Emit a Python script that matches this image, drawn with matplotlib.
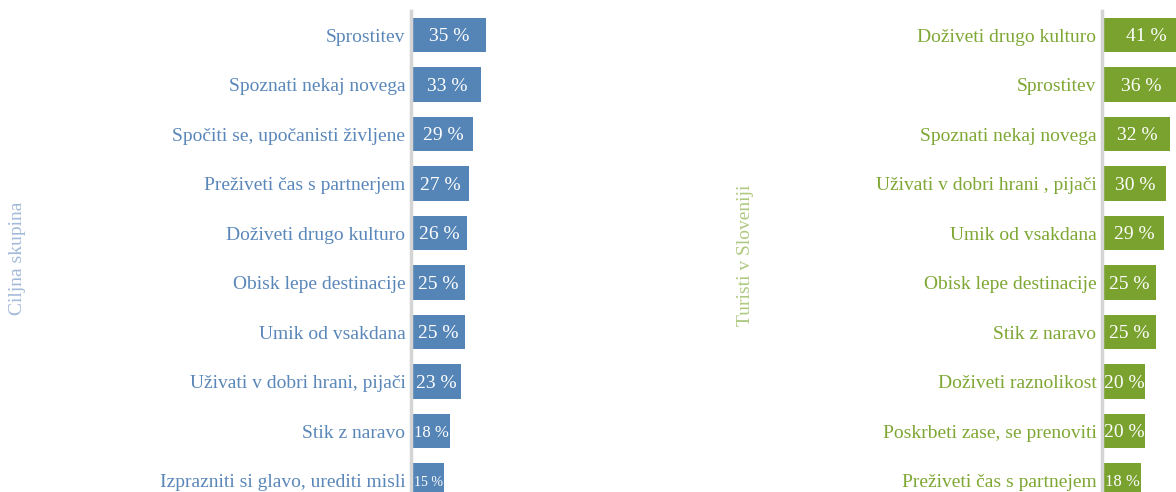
import matplotlib.pyplot as plt

# Ciljna skupina (levo)
cilj_labels = ['Sprostitev', 'Spoznati nekaj novega', 'Spočiti se, upočanisti življene',
               'Preživeti čas s partnerjem', 'Doživeti drugo kulturo', 'Obisk lepe destinacije',
               'Umik od vsakdana', 'Uživati v dobri hrani, pijači', 'Stik z naravo',
               'Izprazniti si glavo, urediti misli']
cilj_values = [35, 33, 29, 27, 26, 25, 25, 23, 18, 15]

# Turisti v Sloveniji (desno)
tur_labels = ['Doživeti drugo kulturo', 'Sprostitev', 'Spoznati nekaj novega',
              'Uživati v dobri hrani , pijači', 'Umik od vsakdana', 'Obisk lepe destinacije',
              'Stik z naravo', 'Doživeti raznolikost', 'Poskrbeti zase, se prenoviti',
              'Preživeti čas s partnejem']
tur_values = [41, 36, 32, 30, 29, 25, 25, 20, 20, 18]

plt.rcParams['font.family'] = ['Liberation Serif', 'DejaVu Serif']

W, H = 1176, 492
fig = plt.figure(figsize=(W / 100, H / 100), dpi=100)


def panel(left_px, labels, values, bar_col, txt_col):
    ax = fig.add_axes([left_px / W, 0, 250 / W, 481 / H])
    y = list(range(len(values)))
    ax.barh(y, values, height=0.69, color=bar_col, left=0.8)
    ax.set_xlim(0, 120)
    ax.set_ylim(9.232, -0.485)
    for s in ['top', 'right', 'bottom']:
        ax.spines[s].set_visible(False)
    ax.spines['left'].set_color('#d4d4d4')
    ax.spines['left'].set_linewidth(2.5)
    ax.set_xticks([])
    ax.set_yticks(y)
    ax.set_yticklabels(labels, color=txt_col, fontsize=14)
    ax.tick_params(axis='y', length=0, pad=4)
    ax.patch.set_alpha(0)
    for yi, v in zip(y, values):
        fs = 14 if v >= 20 else (12 if v >= 18 else 10)
        ax.text(0.8 + v / 2, yi + 0.04, '%d %%' % v, color='white', fontsize=fs,
                ha='center', va='center')
    return ax


panel(411, cilj_labels, cilj_values, '#5585b6', '#5a87ba')
panel(1102, tur_labels, tur_values, '#7aa22f', '#7ea734')

fig.text(18 / W, 1 - 258 / H, 'Ciljna skupina', rotation=90, color='#a2b9da',
         fontsize=14, ha='center', va='center')
fig.text(745 / W, 1 - 255 / H, 'Turisti v Sloveniji', rotation=90, color='#aec97f',
         fontsize=14, ha='center', va='center')

fig.savefig('out.png', dpi=100)
